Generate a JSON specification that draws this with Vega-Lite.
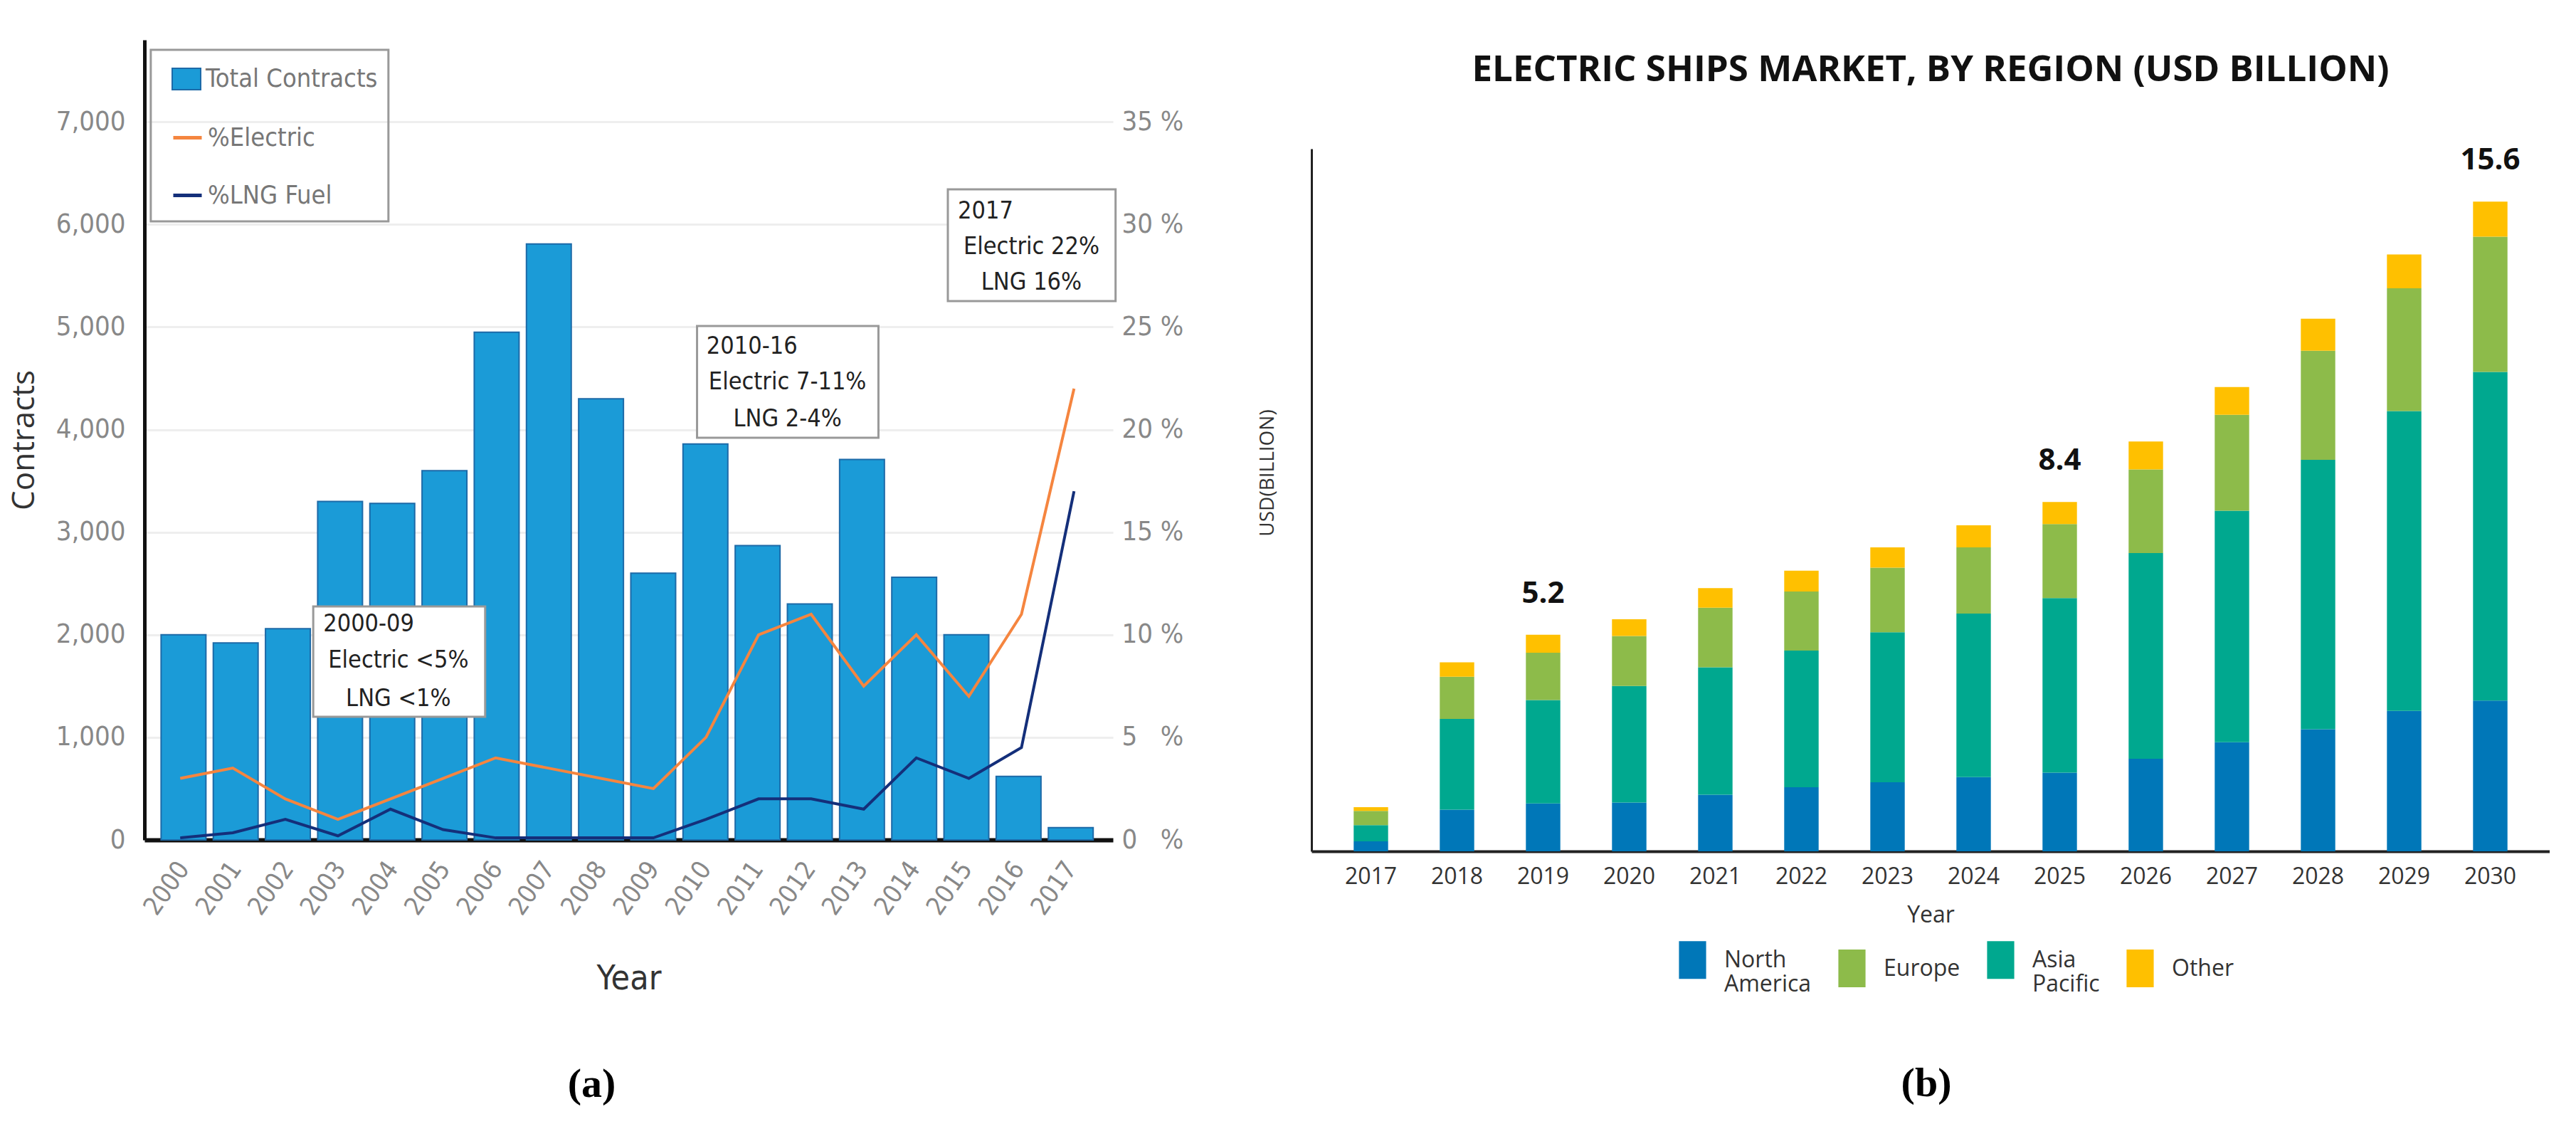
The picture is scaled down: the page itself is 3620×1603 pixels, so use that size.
{
  "$schema": "https://vega.github.io/schema/vega-lite/v6.json",
  "background": "white",
  "padding": {"left": 12, "top": 56, "right": 0, "bottom": 0},
  "spacing": 104,
  "config": {
    "view": {"stroke": null},
    "axis": {"ticks": false}
  },
  "datasets": {
    "contracts": [
      {"Year": 2000, "Contracts": 2000}, {"Year": 2001, "Contracts": 1920}, {"Year": 2002, "Contracts": 2060},
      {"Year": 2003, "Contracts": 3300}, {"Year": 2004, "Contracts": 3280}, {"Year": 2005, "Contracts": 3600},
      {"Year": 2006, "Contracts": 4950}, {"Year": 2007, "Contracts": 5810}, {"Year": 2008, "Contracts": 4300},
      {"Year": 2009, "Contracts": 2600}, {"Year": 2010, "Contracts": 3860}, {"Year": 2011, "Contracts": 2870},
      {"Year": 2012, "Contracts": 2300}, {"Year": 2013, "Contracts": 3710}, {"Year": 2014, "Contracts": 2560},
      {"Year": 2015, "Contracts": 2000}, {"Year": 2016, "Contracts": 620}, {"Year": 2017, "Contracts": 120}
    ],
    "shares": [
      {"Year": 2000, "Series": "%Electric", "Pct": 3}, {"Year": 2001, "Series": "%Electric", "Pct": 3.5},
      {"Year": 2002, "Series": "%Electric", "Pct": 2}, {"Year": 2003, "Series": "%Electric", "Pct": 1},
      {"Year": 2004, "Series": "%Electric", "Pct": 2}, {"Year": 2005, "Series": "%Electric", "Pct": 3},
      {"Year": 2006, "Series": "%Electric", "Pct": 4}, {"Year": 2007, "Series": "%Electric", "Pct": 3.5},
      {"Year": 2008, "Series": "%Electric", "Pct": 3}, {"Year": 2009, "Series": "%Electric", "Pct": 2.5},
      {"Year": 2010, "Series": "%Electric", "Pct": 5}, {"Year": 2011, "Series": "%Electric", "Pct": 10},
      {"Year": 2012, "Series": "%Electric", "Pct": 11}, {"Year": 2013, "Series": "%Electric", "Pct": 7.5},
      {"Year": 2014, "Series": "%Electric", "Pct": 10}, {"Year": 2015, "Series": "%Electric", "Pct": 7},
      {"Year": 2016, "Series": "%Electric", "Pct": 11}, {"Year": 2017, "Series": "%Electric", "Pct": 22},
      {"Year": 2000, "Series": "%LNG Fuel", "Pct": 0.1}, {"Year": 2001, "Series": "%LNG Fuel", "Pct": 0.35},
      {"Year": 2002, "Series": "%LNG Fuel", "Pct": 1}, {"Year": 2003, "Series": "%LNG Fuel", "Pct": 0.2},
      {"Year": 2004, "Series": "%LNG Fuel", "Pct": 1.5}, {"Year": 2005, "Series": "%LNG Fuel", "Pct": 0.5},
      {"Year": 2006, "Series": "%LNG Fuel", "Pct": 0.1}, {"Year": 2007, "Series": "%LNG Fuel", "Pct": 0.1},
      {"Year": 2008, "Series": "%LNG Fuel", "Pct": 0.1}, {"Year": 2009, "Series": "%LNG Fuel", "Pct": 0.1},
      {"Year": 2010, "Series": "%LNG Fuel", "Pct": 1}, {"Year": 2011, "Series": "%LNG Fuel", "Pct": 2},
      {"Year": 2012, "Series": "%LNG Fuel", "Pct": 2}, {"Year": 2013, "Series": "%LNG Fuel", "Pct": 1.5},
      {"Year": 2014, "Series": "%LNG Fuel", "Pct": 4}, {"Year": 2015, "Series": "%LNG Fuel", "Pct": 3},
      {"Year": 2016, "Series": "%LNG Fuel", "Pct": 4.5}, {"Year": 2017, "Series": "%LNG Fuel", "Pct": 17}
    ],
    "market": [
      {"Year": 2017, "Region": "North America", "Value": 0.24}, {"Year": 2017, "Region": "Asia Pacific", "Value": 0.39}, {"Year": 2017, "Region": "Europe", "Value": 0.34}, {"Year": 2017, "Region": "Other", "Value": 0.09},
      {"Year": 2018, "Region": "North America", "Value": 1.0}, {"Year": 2018, "Region": "Asia Pacific", "Value": 2.18}, {"Year": 2018, "Region": "Europe", "Value": 1.01}, {"Year": 2018, "Region": "Other", "Value": 0.35},
      {"Year": 2019, "Region": "North America", "Value": 1.15}, {"Year": 2019, "Region": "Asia Pacific", "Value": 2.48}, {"Year": 2019, "Region": "Europe", "Value": 1.14}, {"Year": 2019, "Region": "Other", "Value": 0.43},
      {"Year": 2020, "Region": "North America", "Value": 1.17}, {"Year": 2020, "Region": "Asia Pacific", "Value": 2.8}, {"Year": 2020, "Region": "Europe", "Value": 1.2}, {"Year": 2020, "Region": "Other", "Value": 0.4},
      {"Year": 2021, "Region": "North America", "Value": 1.36}, {"Year": 2021, "Region": "Asia Pacific", "Value": 3.06}, {"Year": 2021, "Region": "Europe", "Value": 1.43}, {"Year": 2021, "Region": "Other", "Value": 0.47},
      {"Year": 2022, "Region": "North America", "Value": 1.54}, {"Year": 2022, "Region": "Asia Pacific", "Value": 3.28}, {"Year": 2022, "Region": "Europe", "Value": 1.42}, {"Year": 2022, "Region": "Other", "Value": 0.5},
      {"Year": 2023, "Region": "North America", "Value": 1.66}, {"Year": 2023, "Region": "Asia Pacific", "Value": 3.6}, {"Year": 2023, "Region": "Europe", "Value": 1.55}, {"Year": 2023, "Region": "Other", "Value": 0.49},
      {"Year": 2024, "Region": "North America", "Value": 1.78}, {"Year": 2024, "Region": "Asia Pacific", "Value": 3.93}, {"Year": 2024, "Region": "Europe", "Value": 1.59}, {"Year": 2024, "Region": "Other", "Value": 0.53},
      {"Year": 2025, "Region": "North America", "Value": 1.89}, {"Year": 2025, "Region": "Asia Pacific", "Value": 4.19}, {"Year": 2025, "Region": "Europe", "Value": 1.78}, {"Year": 2025, "Region": "Other", "Value": 0.53},
      {"Year": 2026, "Region": "North America", "Value": 2.22}, {"Year": 2026, "Region": "Asia Pacific", "Value": 4.94}, {"Year": 2026, "Region": "Europe", "Value": 2.01}, {"Year": 2026, "Region": "Other", "Value": 0.67},
      {"Year": 2027, "Region": "North America", "Value": 2.62}, {"Year": 2027, "Region": "Asia Pacific", "Value": 5.56}, {"Year": 2027, "Region": "Europe", "Value": 2.3}, {"Year": 2027, "Region": "Other", "Value": 0.67},
      {"Year": 2028, "Region": "North America", "Value": 2.93}, {"Year": 2028, "Region": "Asia Pacific", "Value": 6.47}, {"Year": 2028, "Region": "Europe", "Value": 2.62}, {"Year": 2028, "Region": "Other", "Value": 0.77},
      {"Year": 2029, "Region": "North America", "Value": 3.37}, {"Year": 2029, "Region": "Asia Pacific", "Value": 7.2}, {"Year": 2029, "Region": "Europe", "Value": 2.95}, {"Year": 2029, "Region": "Other", "Value": 0.81},
      {"Year": 2030, "Region": "North America", "Value": 3.62}, {"Year": 2030, "Region": "Asia Pacific", "Value": 7.89}, {"Year": 2030, "Region": "Europe", "Value": 3.25}, {"Year": 2030, "Region": "Other", "Value": 0.84}
    ],
    "totals": [
      {"Year": 2019, "Total": 5.2},
      {"Year": 2025, "Total": 8.4},
      {"Year": 2030, "Total": 15.6}
    ]
  },
  "resolve": {"scale": {"color": "independent"}, "legend": {"color": "independent"}},
  "hconcat": [
    {
      "width": 1361,
      "height": 1124,
      "title": {"text": "(a)", "orient": "bottom", "font": "Liberation Serif", "fontSize": 58, "fontWeight": "bold", "color": "#000", "offset": 95, "anchor": "middle", "dx": -52},
      "resolve": {"scale": {"x": "independent", "y": "independent"}},
      "layer": [
        {
          "data": {"name": "contracts"},
          "mark": {"type": "bar", "size": 63, "stroke": "#1d6aa8", "strokeWidth": 2},
          "encoding": {
            "x": {
              "field": "Year", "type": "quantitative",
              "scale": {"domain": [1999.32, 2017.74], "nice": false, "zero": false},
              "axis": {
                "values": [2000, 2001, 2002, 2003, 2004, 2005, 2006, 2007, 2008, 2009, 2010, 2011, 2012, 2013, 2014, 2015, 2016, 2017],
                "format": "d", "labelAngle": -55, "labelOverlap": false, "grid": false, "domainColor": "#111", "domainWidth": 6,
                "labelFont": "Liberation Sans Narrow, DejaVu Sans Condensed, sans-serif", "labelFontSize": 36, "labelColor": "#888", "labelPadding": 34,
                "title": "Year", "titleFont": "Liberation Sans Narrow, DejaVu Sans Condensed, sans-serif", "titleFontSize": 48, "titleFontWeight": "normal", "titleColor": "#333", "titlePadding": 60
              }
            },
            "y": {
              "field": "Contracts", "type": "quantitative",
              "scale": {"domain": [0, 7800], "nice": false},
              "axis": {
                "values": [0, 1000, 2000, 3000, 4000, 5000, 6000, 7000], "format": ",.0f", "labelOverlap": false,
                "grid": true, "gridColor": "#eeeeee", "gridWidth": 3, "domainColor": "#111", "domainWidth": 5,
                "labelFont": "Liberation Sans Narrow, DejaVu Sans Condensed, sans-serif", "labelFontSize": 38, "labelColor": "#888", "labelPadding": 27,
                "title": "Contracts", "titleFont": "Open Sans", "titleFontSize": 44, "titleFontWeight": "normal", "titleColor": "#333", "titlePadding": 22
              }
            },
            "fill": {
              "datum": "Total Contracts", "type": "nominal",
              "scale": {"domain": ["Total Contracts"], "range": ["#1b9bd7"]},
              "legend": {
                "orient": "none", "legendX": 38, "legendY": 34, "title": null,
                "labelFont": "Liberation Sans Narrow, DejaVu Sans Condensed, sans-serif", "labelFontSize": 36, "labelColor": "#777", "labelOffset": 6, "labelLimit": 400,
                "symbolType": "M-1,-0.75H1V0.75H-1Z", "symbolSize": 1600, "symbolStrokeColor": "#1d6aa8", "symbolStrokeWidth": 2
              }
            }
          }
        },
        {
          "data": {"values": [{}]},
          "layer": [
            {
              "mark": {"type": "rect", "fill": null, "fillOpacity": 0, "stroke": "#999", "strokeWidth": 3},
              "encoding": {
                "x": {"datum": 1999.44, "type": "quantitative", "axis": null, "scale": {"domain": [1999.32, 2017.74], "nice": false, "zero": false}}, "x2": {"datum": 2003.96},
                "y": {"datum": 7703, "type": "quantitative", "axis": null, "scale": {"domain": [0, 7800], "nice": false}}, "y2": {"datum": 6031}
              }
            },
            {
              "mark": {"type": "rect", "fill": "white", "stroke": "#999", "strokeWidth": 3},
              "encoding": {
                "x": {"datum": 2002.53, "type": "quantitative", "axis": null}, "x2": {"datum": 2005.8},
                "y": {"datum": 2276, "type": "quantitative", "axis": null}, "y2": {"datum": 1201}
              }
            },
            {
              "mark": {"type": "rect", "fill": "white", "stroke": "#999", "strokeWidth": 3},
              "encoding": {
                "x": {"datum": 2009.83, "type": "quantitative", "axis": null}, "x2": {"datum": 2013.28},
                "y": {"datum": 5010, "type": "quantitative", "axis": null}, "y2": {"datum": 3921}
              }
            },
            {
              "mark": {"type": "rect", "fill": "white", "stroke": "#999", "strokeWidth": 3},
              "encoding": {
                "x": {"datum": 2014.6, "type": "quantitative", "axis": null}, "x2": {"datum": 2017.79},
                "y": {"datum": 6343, "type": "quantitative", "axis": null}, "y2": {"datum": 5253}
              }
            },
            {
              "mark": {"type": "text", "align": "left", "baseline": "middle", "font": "Liberation Sans Narrow, DejaVu Sans Condensed, sans-serif", "fontSize": 34, "color": "#222"},
              "encoding": {"x": {"datum": 2002.72, "type": "quantitative", "axis": null}, "y": {"datum": 2103, "type": "quantitative", "axis": null}, "text": {"value": "2000-09"}}
            },
            {
              "mark": {"type": "text", "align": "center", "baseline": "middle", "font": "Liberation Sans Narrow, DejaVu Sans Condensed, sans-serif", "fontSize": 34, "color": "#222"},
              "encoding": {"x": {"datum": 2004.15, "type": "quantitative", "axis": null}, "y": {"datum": 1749, "type": "quantitative", "axis": null}, "text": {"value": "Electric <5%"}}
            },
            {
              "mark": {"type": "text", "align": "center", "baseline": "middle", "font": "Liberation Sans Narrow, DejaVu Sans Condensed, sans-serif", "fontSize": 34, "color": "#222"},
              "encoding": {"x": {"datum": 2004.15, "type": "quantitative", "axis": null}, "y": {"datum": 1374, "type": "quantitative", "axis": null}, "text": {"value": "LNG <1%"}}
            },
            {
              "mark": {"type": "text", "align": "left", "baseline": "middle", "font": "Liberation Sans Narrow, DejaVu Sans Condensed, sans-serif", "fontSize": 34, "color": "#222"},
              "encoding": {"x": {"datum": 2010.01, "type": "quantitative", "axis": null}, "y": {"datum": 4809, "type": "quantitative", "axis": null}, "text": {"value": "2010-16"}}
            },
            {
              "mark": {"type": "text", "align": "center", "baseline": "middle", "font": "Liberation Sans Narrow, DejaVu Sans Condensed, sans-serif", "fontSize": 34, "color": "#222"},
              "encoding": {"x": {"datum": 2011.55, "type": "quantitative", "axis": null}, "y": {"datum": 4462, "type": "quantitative", "axis": null}, "text": {"value": "Electric 7-11%"}}
            },
            {
              "mark": {"type": "text", "align": "center", "baseline": "middle", "font": "Liberation Sans Narrow, DejaVu Sans Condensed, sans-serif", "fontSize": 34, "color": "#222"},
              "encoding": {"x": {"datum": 2011.55, "type": "quantitative", "axis": null}, "y": {"datum": 4101, "type": "quantitative", "axis": null}, "text": {"value": "LNG 2-4%"}}
            },
            {
              "mark": {"type": "text", "align": "left", "baseline": "middle", "font": "Liberation Sans Narrow, DejaVu Sans Condensed, sans-serif", "fontSize": 34, "color": "#222"},
              "encoding": {"x": {"datum": 2014.79, "type": "quantitative", "axis": null}, "y": {"datum": 6128, "type": "quantitative", "axis": null}, "text": {"value": "2017"}}
            },
            {
              "mark": {"type": "text", "align": "center", "baseline": "middle", "font": "Liberation Sans Narrow, DejaVu Sans Condensed, sans-serif", "fontSize": 34, "color": "#222"},
              "encoding": {"x": {"datum": 2016.19, "type": "quantitative", "axis": null}, "y": {"datum": 5781, "type": "quantitative", "axis": null}, "text": {"value": "Electric 22%"}}
            },
            {
              "mark": {"type": "text", "align": "center", "baseline": "middle", "font": "Liberation Sans Narrow, DejaVu Sans Condensed, sans-serif", "fontSize": 34, "color": "#222"},
              "encoding": {"x": {"datum": 2016.19, "type": "quantitative", "axis": null}, "y": {"datum": 5434, "type": "quantitative", "axis": null}, "text": {"value": "LNG 16%"}}
            }
          ]
        },
        {
          "data": {"name": "shares"},
          "mark": {"type": "line", "strokeWidth": 4},
          "encoding": {
            "x": {"field": "Year", "type": "quantitative", "axis": null, "scale": {"domain": [1999.32, 2017.74], "nice": false, "zero": false}},
            "y": {
              "field": "Pct", "type": "quantitative",
              "scale": {"domain": [0, 39], "nice": false},
              "axis": {
                "orient": "right", "values": [0, 5, 10, 15, 20, 25, 30, 35], "labelOverlap": false,
                "labelExpr": "datum.value < 10 ? datum.value + '\u2007 %' : datum.value + ' %'",
                "grid": false, "domain": false,
                "labelFont": "Liberation Sans Narrow, DejaVu Sans Condensed, sans-serif", "labelFontSize": 38, "labelColor": "#888", "labelPadding": 12,
                "title": null
              }
            },
            "stroke": {
              "field": "Series", "type": "nominal",
              "scale": {"domain": ["%Electric", "%LNG Fuel"], "range": ["#f5853f", "#142f7a"]},
              "legend": {
                "orient": "none", "legendX": 38, "legendY": 115, "title": null,
                "labelFont": "Liberation Sans Narrow, DejaVu Sans Condensed, sans-serif", "labelFontSize": 36, "labelColor": "#777", "labelOffset": 6, "labelLimit": 400,
                "symbolType": "stroke", "symbolSize": 1600, "symbolStrokeWidth": 5, "rowPadding": 40
              }
            }
          }
        }
      ]
    },
    {
      "title": {"text": "(b)", "orient": "bottom", "font": "Liberation Serif", "fontSize": 58, "fontWeight": "bold", "color": "#000", "offset": 95, "anchor": "middle", "dx": 32},
      "spacing": 0,
      "vconcat": [
        {
          "width": 1740,
          "height": 17,
          "data": {"values": []},
          "mark": "point"
        },
        {
          "width": 1740,
          "height": 987,
          "title": {"text": "ELECTRIC SHIPS MARKET, BY REGION (USD BILLION)", "font": "Open Sans", "fontSize": 51, "fontWeight": "bold", "color": "#111", "offset": 79, "anchor": "middle", "frame": "group"},
          "layer": [
            {
              "data": {"name": "market"},
              "transform": [{"calculate": "indexof(['North America', 'Asia Pacific', 'Europe', 'Other'], datum.Region)", "as": "StackOrder"}],
              "mark": {"type": "bar"},
              "encoding": {
                "x": {
                  "field": "Year", "type": "ordinal",
                  "scale": {"paddingInner": 0.6, "paddingOuter": 0.49},
                  "axis": {
                    "labelAngle": 0, "grid": false, "domainColor": "#222", "domainWidth": 4,
                    "labelFont": "Open Sans", "labelFontSize": 32, "labelColor": "#333", "labelPadding": 20,
                    "title": "Year", "titleFont": "Open Sans", "titleFontSize": 32, "titleFontWeight": "normal", "titleColor": "#333", "titlePadding": 23
                  }
                },
                "y": {
                  "field": "Value", "type": "quantitative", "aggregate": "sum", "stack": "zero",
                  "scale": {"domain": [0, 16.87], "nice": false},
                  "axis": {
                    "labels": false, "grid": false, "domainColor": "#222", "domainWidth": 3,
                    "title": "USD(BILLION)", "titleFont": "Open Sans", "titleFontSize": 28, "titleFontWeight": "normal", "titleColor": "#333", "titlePadding": 48, "titleY": 455
                  }
                },
                "color": {
                  "field": "Region", "type": "nominal",
                  "scale": {"domain": ["North America", "Europe", "Asia Pacific", "Other"], "range": ["#0077b8", "#8dbb4a", "#00a88f", "#ffc000"]},
                  "legend": {
                    "orient": "none", "legendX": 509, "legendY": 1266, "direction": "horizontal", "columns": 4, "title": null,
                    "labelFont": "Open Sans", "labelFontSize": 32, "labelColor": "#333", "labelOffset": 18, "columnPadding": 30,
                    "symbolType": "M-0.72,-1H0.72V1H-0.72Z", "symbolSize": 2809, "symbolStrokeWidth": 0, "symbolOpacity": 1,
                    "labelExpr": "datum.label === 'North America' ? ['North', 'America'] : (datum.label === 'Asia Pacific' ? ['Asia', 'Pacific'] : datum.label)"
                  }
                },
                "order": {"field": "StackOrder", "type": "quantitative"}
              }
            },
            {
              "data": {"name": "totals"},
              "mark": {"type": "text", "font": "Open Sans", "fontSize": 42, "fontWeight": "bold", "color": "#111", "baseline": "bottom", "dy": -36},
              "encoding": {
                "x": {"field": "Year", "type": "ordinal"},
                "y": {"field": "Total", "type": "quantitative"},
                "text": {"field": "Total", "type": "quantitative", "format": ".1f"}
              }
            }
          ]
        }
      ]
    }
  ]
}
